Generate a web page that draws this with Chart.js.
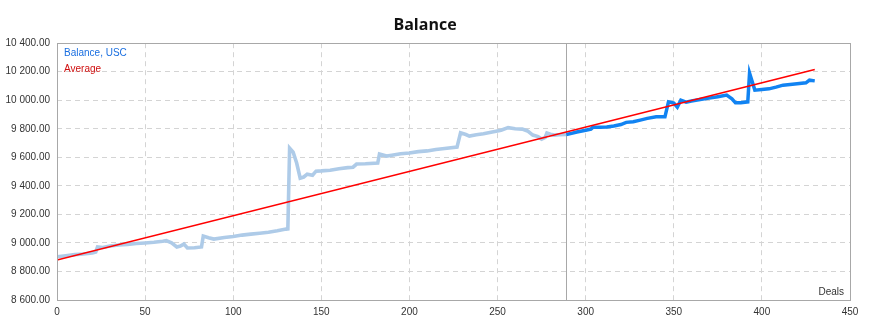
<!DOCTYPE html>
<html>
<head>
<meta charset="utf-8">
<script src="https://cdn.jsdelivr.net/npm/chart.js@4/dist/chart.umd.min.js"></script>
<style>
html,body{margin:0;padding:0;background:#fff;}
#wrap{width:872px;height:328px;}
</style>
</head>
<body>
<div id="wrap"><canvas id="c" width="872" height="328"></canvas></div>
<script>
// ---- data ----
const historyDeals = [0,5,10,15,20,22,23,26,30,35,40,45,50,55,60,62,65,68,70,72,74,78,82,83,86,89,95,100,105,110,115,120,125,130,131,132,134,136,138,140,142,145,147,150,155,160,165,168,170,175,182,183,187,190,195,200,205,210,215,220,227,229,232,234,238,242,247,252,256,260,264,267,270,273,275,277,278,280,282,285,289];
const historyBalance = [8903,8910,8918,8922,8930,8936,8972,8968,8978,8985,8990,8996,9000,9005,9012,9016,9000,8972,8978,8992,8965,8966,8972,9048,9036,9027,9038,9045,9055,9062,9068,9075,9085,9097,9098,9664,9636,9560,9454,9462,9482,9475,9503,9505,9510,9520,9528,9531,9553,9555,9560,9623,9609,9615,9625,9630,9640,9645,9655,9662,9672,9772,9760,9749,9758,9765,9777,9790,9808,9800,9798,9785,9756,9745,9728,9740,9770,9762,9756,9758,9760];
const recentDeals = [289,292,295,300,303,304,308,312,316,320,323,327,331,335,340,345,347,350,352,354,357,360,365,370,375,380,383,385,388,392,393,396,400,404,408,412,416,420,425,427,430];
const recentBalance = [9760,9768,9777,9790,9798,9810,9810,9812,9820,9830,9845,9850,9861,9873,9885,9884,9989,9980,9952,10001,9987,9995,10005,10015,10025,10036,10010,9982,9983,9989,10190,10071,10075,10080,10092,10106,10110,10115,10122,10141,10136];
const averageDeals = [0,430];
const averageBalance = [8880,10216];
const splitDeal = [289];
const xTicks = [0,50,100,150,200,250,300,350,400,450];
const yTicks = [8600,8800,9000,9200,9400,9600,9800,10000,10200,10400];
const labels = {title:'Balance', balance:'Balance, USC', average:'Average', axis:'Deals'};

const toPts = (xs, ys) => xs.map((x,i)=>({x:x,y:ys[i]}));
const fmt = v => { const s = Number(v).toFixed(2); const [a,b] = s.split('.'); return a.replace(/\B(?=(\d{3})+(?!\d))/g,' ') + '.' + b; };

const FONT = "'Liberation Sans', Arial, sans-serif";
const TFONT = "'Open Sans', 'Liberation Sans', sans-serif";

const overlay = {
  id:'overlay',
  beforeDatasetsDraw(chart){
    const {ctx, chartArea:a, scales:{x}} = chart;
    ctx.save();
    const px = Math.round(x.getPixelForValue(splitDeal[0])) + 0.5;
    ctx.strokeStyle = '#a8a8a8'; ctx.lineWidth = 1;
    ctx.beginPath(); ctx.moveTo(px, a.top); ctx.lineTo(px, a.bottom); ctx.stroke();
    ctx.restore();
  },
  afterDraw(chart){
    const {ctx, chartArea:a} = chart;
    ctx.save();
    ctx.strokeStyle = '#a8a8a8'; ctx.lineWidth = 1;
    ctx.strokeRect(Math.round(a.left)+0.5, Math.round(a.top)+0.5, Math.round(a.right-a.left), Math.round(a.bottom-a.top));
    ctx.font = "10px " + FONT;
    ctx.textBaseline = 'middle';
    ctx.textAlign = 'left';
    ctx.fillStyle = '#1a6fe0';
    ctx.fillText(labels.balance, a.left + 7, a.top + 10);
    ctx.fillStyle = '#d01010';
    ctx.fillText(labels.average, a.left + 7, a.top + 26);
    ctx.textAlign = 'right';
    ctx.fillStyle = '#333';
    ctx.fillText(labels.axis, a.right - 6, a.bottom - 8);
    ctx.restore();
  }
};

new Chart(document.getElementById('c'), {
  type:'line',
  data:{
    datasets:[
      {label:labels.average, data:toPts(averageDeals, averageBalance), borderColor:'#ff0000', borderWidth:1.6, pointRadius:0, tension:0, order:0},
      {label:labels.balance, data:toPts(recentDeals, recentBalance), borderColor:'#1183f2', borderWidth:3.5, pointRadius:0, tension:0, order:1},
      {label:labels.balance + ' (history)', data:toPts(historyDeals, historyBalance), borderColor:'#aecbe8', borderWidth:3.6, pointRadius:0, tension:0, order:2}
    ]
  },
  options:{
    responsive:false, animation:false,
    layout:{padding:{left:0,right:22,top:0,bottom:0}},
    plugins:{
      legend:{display:false},
      tooltip:{enabled:false},
      title:{display:true, text:labels.title, color:'#111', font:{family:TFONT, size:16, weight:'bold'}, padding:{top:16,bottom:8}}
    },
    scales:{
      x:{
        type:'linear', min:0, max:450,
        afterBuildTicks(s){ s.ticks = xTicks.map(v=>({value:v})); },
        afterFit(s){ s.height = 28; },
        grid:{color:'#d4d4d4', drawTicks:false, tickLength:0},
        border:{display:false, dash:[5,4]},
        ticks:{color:'#333', padding:6, maxRotation:0, font:{family:FONT, size:10}}
      },
      y:{
        min:8600, max:10400,
        afterBuildTicks(s){ s.ticks = yTicks.map(v=>({value:v})); },
        afterFit(s){ s.width = 57; },
        grid:{color:'#d4d4d4', drawTicks:false, tickLength:0},
        border:{display:false, dash:[5,4]},
        ticks:{color:'#333', padding:7, font:{family:FONT, size:10}, callback:v=>fmt(v)}
      }
    }
  },
  plugins:[overlay]
});
</script>
</body>
</html>
